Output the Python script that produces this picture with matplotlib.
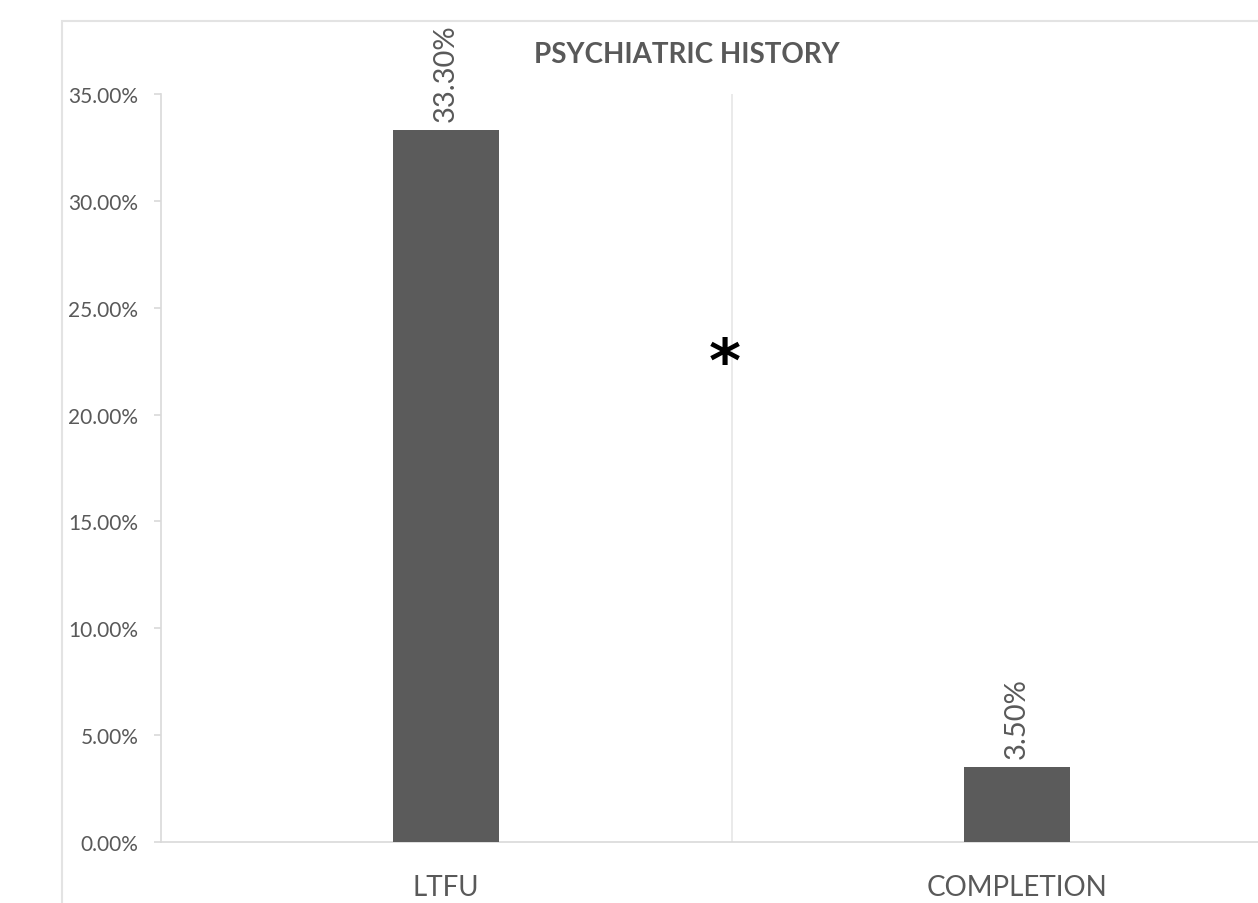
import matplotlib
matplotlib.use("Agg")
import matplotlib.pyplot as plt
from matplotlib.patches import Rectangle
from matplotlib.ticker import FuncFormatter, MultipleLocator

categories = ["LTFU", "COMPLETION"]
values = [33.30, 3.50]
value_labels = ["33.30%", "3.50%"]
title = "PSYCHIATRIC HISTORY"

plt.rcParams["font.family"] = ["Lato", "DejaVu Sans"]

W, H = 1258, 904
fig = plt.figure(figsize=(W / 100, H / 100), dpi=100)

# chart-area frame (extends past the right and bottom edges)
fig.patches.append(Rectangle((62 / W, -0.1), 1.2, 1 - 22 / H + 0.1,
                             transform=fig.transFigure, fill=False,
                             edgecolor="#e3e3e3", linewidth=1.5))

ax_left, ax_right = 160.5 / W, 1302.5 / W
ax_bottom, ax_top = 1 - 843 / H, 1 - 95 / H
ax = fig.add_axes([ax_left, ax_bottom, ax_right - ax_left, ax_top - ax_bottom])

grey = "#595959"
line_col = "#d9d9d9"
x = list(range(len(categories)))
ax.bar(x, values, width=0.184, color="#5b5b5b", zorder=3)

ax.set_xlim(-0.5, len(categories) - 0.5)
ax.set_ylim(0, 35)
ax.yaxis.set_major_locator(MultipleLocator(5))
ax.yaxis.set_major_formatter(FuncFormatter(lambda v, p: f"{v:.2f}%"))

for s in ["top", "right"]:
    ax.spines[s].set_visible(False)
for s in ["left", "bottom"]:
    ax.spines[s].set_color(line_col)
    ax.spines[s].set_linewidth(1.2)

ax.tick_params(axis="y", length=5, width=1.2, color=line_col, colors=grey,
               labelsize=15, pad=11)
ax.tick_params(axis="x", length=0, labelsize=20, colors=grey, pad=23)
ax.set_xticks(x)
ax.set_xticklabels(categories)

# category separator
ax.axvline(0.5, color="#e6e6e6", linewidth=1.2, zorder=1)

for xi, v, lab in zip(x, values, value_labels):
    ax.annotate(lab, (xi, v), xytext=(0, 9), textcoords="offset pixels",
                rotation=90, ha="center", va="bottom", fontsize=21,
                color=grey, annotation_clip=False)

ax.text(0.489, 22.35, "*", fontsize=44, fontweight="bold", color="black",
        ha="center", va="center", family="DejaVu Sans")

fig.text(687 / W, 1 - 55 / H, title, ha="center", va="center",
         fontsize=20, fontweight="bold", color=grey)

fig.savefig("out.png", dpi=100)
